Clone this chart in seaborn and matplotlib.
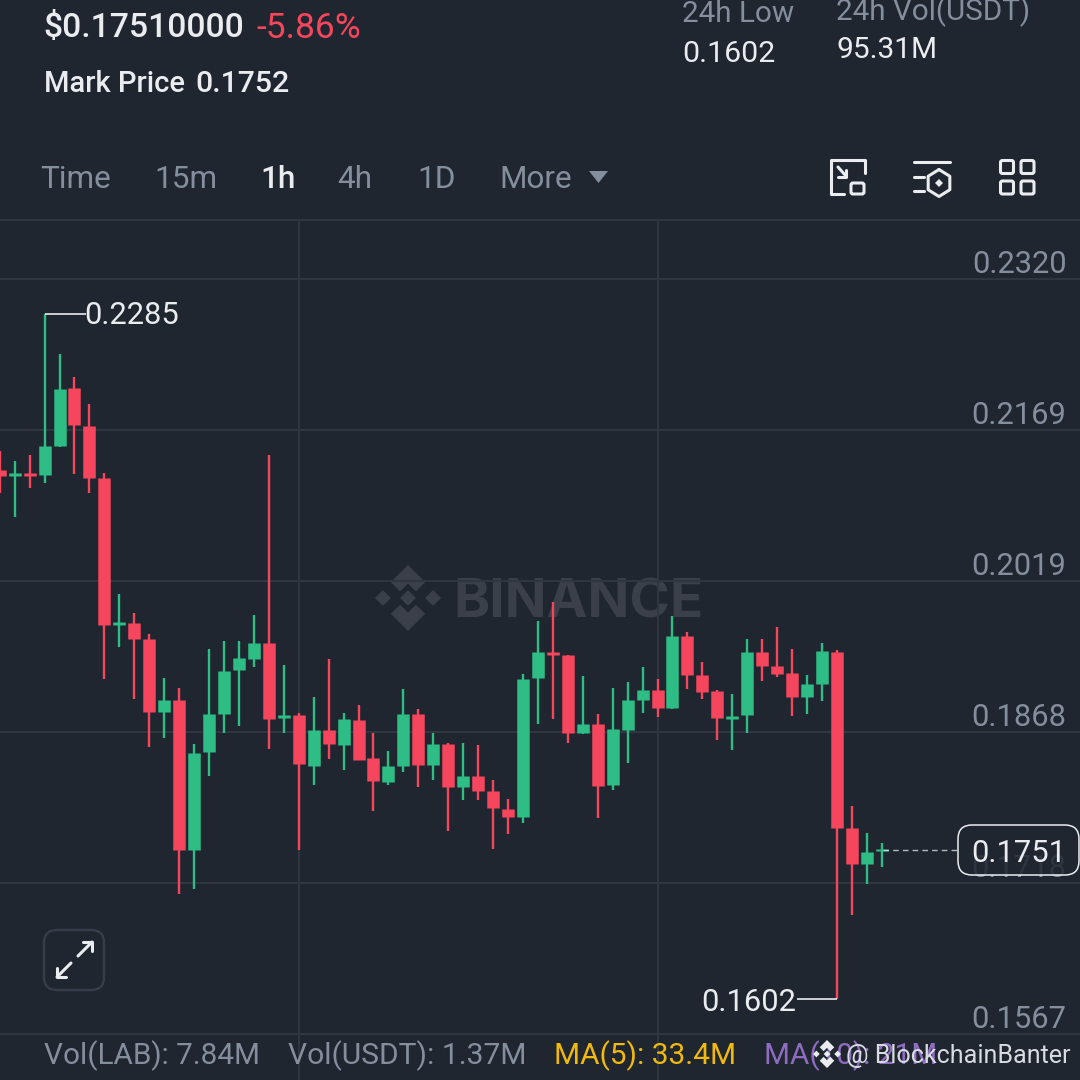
import numpy as np
import pandas as pd
import matplotlib
matplotlib.use("Agg")
import matplotlib.pyplot as plt
from matplotlib.patches import FancyBboxPatch, Polygon, Rectangle
import seaborn as sns

candle_index = list(range(-1, 59))
highs = [.21488,.21385,.21445,.2285,.22449,.22220,.21950,.21265,.20055,.19872,.19659,.19217,.19118,.18559,.19507,.19589,.19589,.19852,.21445,.19350,
         .18868,.19028,.19410,.18868,.18951,.18669,.18489,.19111,.18908,.18669,.18569,.18569,.18549,.18206,.18017,.19260,.19792,.19981,.19450,.19237,
         .18858,.19118,.19178,.19327,.19207,.19842,.19676,.19380,.19101,.19058,.19609,.19609,.19729,.19510,.19247,.19570,.19500,.17947,.17678,.17578]
lows = [.21069,.20826,.21115,.21168,.21527,.21258,.21069,.19210,.19533,.19014,.18529,.18622,.17066,.17116,.18240,.18669,.18742,.19333,.18509,.18669,
        .17508,.18156,.18410,.18300,.18403,.17897,.18150,.18280,.18136,.18206,.17697,.18007,.18007,.17518,.17664,.17777,.18759,.18808,.18569,.18659,
        .17827,.18100,.18376,.18871,.18831,.18914,.19111,.19011,.18599,.18499,.18669,.19191,.19230,.18841,.18861,.18991,.1602,.16854,.17169,.17338]
opens = [.21295,.21238,.21265,.21248,.21537,.22110,.21731,.21215,.19752,.19772,.19609,.18881,.18998,.17508,.18479,.18861,.19300,.19410,.19570,.18821,
         .18848,.18340,.18699,.18549,.18799,.18419,.18180,.18340,.18858,.18350,.18559,.18130,.18240,.18090,.17917,.17837,.19220,.19480,.19450,.18669,
         .18759,.18150,.18702,.19001,.19101,.18918,.19639,.19250,.19091,.18811,.18851,.19480,.19340,.19267,.19031,.19164,.19480,.17724,.17365,.17495]
closes = [.21238,.21265,.21240,.21537,.22100,.21741,.21215,.19746,.19782,.19612,.18881,.18998,.17508,.18475,.18858,.19290,.19420,.19570,.18811,.18854,
          .18363,.18699,.18559,.18808,.18406,.18190,.18346,.18858,.18350,.18559,.18130,.18240,.18090,.17927,.17837,.19210,.19480,.19453,.18669,.18759,
          .18140,.18709,.18998,.19101,.18921,.19639,.19250,.19081,.18821,.18841,.19480,.19340,.19260,.19031,.19161,.19490,.17727,.17365,.17485,.17515]

grid_prices = [0.2320, 0.2169, 0.2019, 0.1868, 0.1718, 0.1567]
grid_labels = ["0.2320", "0.2169", "0.2019", "0.1868", "0.1718", "0.1567"]
grid_candles = [19, 43]
last_price = 0.1751
high_price = 0.2285
low_price = 0.1602

BG = "#1F2630"
GRID = "#30363F"
UP = "#2EBD85"
DOWN = "#F6465D"
WHITE = "#EAECEF"
GRAY = "#848E9C"

sns.set_theme(style="dark", rc={"figure.facecolor": BG, "axes.facecolor": BG})
plt.rcParams["font.family"] = ["Roboto", "DejaVu Sans"]

wick_rows, body_rows = [], []
for i, h, l, o, c in zip(candle_index, highs, lows, opens, closes):
    d = "up" if c >= o else "down"
    wick_rows += [(i, h, d), (i, l, d)]
    body_rows += [(i, o, d), (i, c, d)]
wicks = pd.DataFrame(wick_rows, columns=["candle", "price", "dir"])
bodies = pd.DataFrame(body_rows, columns=["candle", "price", "dir"])
pal = {"up": UP, "down": DOWN}

fig = plt.figure(figsize=(10.8, 10.8), dpi=100, facecolor=BG)
back = fig.add_axes([0, 0, 1, 1], zorder=0)
ax = fig.add_axes([0, 0, 1, 1], zorder=1)
top = fig.add_axes([0, 0, 1, 1], zorder=2)
for a in (back, top):
    a.set_xlim(0, 1080)
    a.set_ylim(1080, 0)
    a.axis("off")
ax.patch.set_alpha(0)
top.patch.set_alpha(0)


def logo(a, cx, cy, s, color, z=1):
    d = 0.24
    for dx in (-0.76, 0, 0.76):
        a.add_patch(Polygon([(cx + (dx - d) * s, cy), (cx + dx * s, cy - d * s), (cx + (dx + d) * s, cy), (cx + dx * s, cy + d * s)],
                            fc=color, ec="none", zorder=z))
    for sgn in (-1, 1):
        pts = [(0, 1), (.52, .48), (.24, .20), (0, .44), (-.24, .20), (-.52, .48)]
        a.add_patch(Polygon([(cx + x * s, cy + sgn * y * s) for x, y in pts], fc=color, ec="none", zorder=z))


logo(back, 408, 598, 33, "#3A3F49")
back.text(578.5, 603, "BINANCE", color="#3A3F49", family="Inter", fontsize=39.5, fontweight="bold", ha="center", va="center")

sns.lineplot(data=wicks, x="candle", y="price", units="candle", estimator=None, hue="dir", palette=pal,
             linewidth=1.7, solid_capstyle="butt", sort=False, legend=False, ax=ax)
sns.lineplot(data=bodies, x="candle", y="price", units="candle", estimator=None, hue="dir", palette=pal,
             linewidth=9.0, solid_capstyle="butt", sort=False, legend=False, ax=ax)

ax.set_xlim(-0.983, 71.26)
ax.set_ylim(0.15211, 0.25983)
ax.set_yticks(grid_prices)
ax.set_xticks(grid_candles)
ax.grid(True, color=GRID, linewidth=1.5)
ax.set_axisbelow(True)
ax.tick_params(length=0, labelleft=False, labelbottom=False)
ax.set_xlabel("")
ax.set_ylabel("")
for s in ax.spines.values():
    s.set_visible(False)

# price annotations, placed through the price scale
for p, lab in zip(grid_prices, grid_labels):
    ax.annotate(lab, xy=(1066.5, p), xycoords=("figure pixels", "data"), xytext=(0, 14.5 * 0.72), textcoords="offset points",
                color=GRAY, fontsize=22.2, ha="right", va="center", zorder=1)
ax.plot([2, 4.75], [high_price] * 2, color=WHITE, lw=1.2, solid_capstyle="butt", zorder=5)
ax.annotate("0.2285", xy=(4.75, high_price), xytext=(-1, -1.2), textcoords="offset points", color=WHITE, fontsize=22.2, va="center", ha="left")
ax.plot([52.3, 55], [low_price] * 2, color=WHITE, lw=1.2, solid_capstyle="butt", zorder=5)
ax.annotate("0.1602", xy=(52.3, low_price), xytext=(0, -2.5), textcoords="offset points", color=WHITE, fontsize=22.2, va="center", ha="right")
ax.plot([58.1, 63], [last_price] * 2, color=WHITE, lw=1.0, ls=(0, (4, 3)), alpha=0.75, zorder=5)

# header cover and separator
top.add_patch(Rectangle((0, 0), 1080, 219, fc=BG, ec="none", zorder=0))
top.plot([0, 1080], [219.5, 219.5], color=GRID, lw=1.5, zorder=1)

# last price tag
top.add_patch(FancyBboxPatch((965, 832), 107, 36, boxstyle="round,pad=7,rounding_size=14", fc=BG, alpha=0.85, ec="none", zorder=3))
top.add_patch(FancyBboxPatch((965, 832), 107, 36, boxstyle="round,pad=7,rounding_size=14", fc="none", ec=WHITE, lw=1.1, zorder=4))
top.text(1019, 853, "0.1751", color=WHITE, fontsize=22.2, ha="center", va="center", zorder=5)


# header texts
def T(x, y, s, c=WHITE, fs=20, w="normal", ha="left"):
    top.text(x - 1.5, y + 1.5, s, color=c, fontsize=fs, fontweight=w, ha=ha, va="center", zorder=5)


T(45, 27, "$0.17510000", WHITE, 24.3, "medium")
T(258, 27, "-5.86%", DOWN, 25.5)
T(45, 82, "Mark Price", WHITE, 21, "medium")
T(197, 82, "0.1752", WHITE, 21.8, "medium")
T(684, 13, "24h Low", GRAY, 21.3)
T(684, 53, "0.1602", WHITE, 21.8)
T(838, 10, "24h Vol(USDT)", GRAY, 21.3)
T(838, 49, "95.31M", WHITE, 21.5)
for x, s, c, w in [(42, "Time", GRAY, "normal"), (156, "15m", GRAY, "normal"), (262, "1h", WHITE, "medium"),
                   (339, "4h", GRAY, "normal"), (419, "1D", GRAY, "normal"), (501, "More", GRAY, "normal")]:
    T(x, 178.5, s, c, 22.7, w)
top.add_patch(Polygon([(589, 171), (608, 171), (598.5, 183)], fc=GRAY, ec="none", zorder=5))

# icons
ic = dict(color=WHITE, lw=2.2, solid_capstyle="round", solid_joinstyle="round", zorder=5)
top.plot([844, 831, 831, 865, 865], [194, 194, 160, 160, 173], **ic)
top.add_patch(FancyBboxPatch((851, 183), 13, 11, boxstyle="round,pad=0,rounding_size=2", fc="none", ec=WHITE, lw=2.2, zorder=5))
top.plot([838, 846], [167, 176], **ic)
top.plot([846, 846, 838], [170, 177, 177], **ic)
top.plot([914, 950], [162, 162], **ic)
top.plot([914, 924], [177, 177], **ic)
top.plot([914, 924], [191, 191], **ic)
hx = 939 + 12.5 * np.sin(np.arange(7) * np.pi / 3)
hy = 183 - 13.5 * np.cos(np.arange(7) * np.pi / 3)
top.plot(hx, hy, **ic)
top.add_patch(Polygon([(939, 179), (943, 183), (939, 187), (935, 183)], fc=WHITE, ec="none", zorder=5))
for x in (1000.5, 1021):
    for y in (160.5, 181):
        top.add_patch(FancyBboxPatch((x, y), 13, 13, boxstyle="round,pad=0,rounding_size=2", fc="none", ec=WHITE, lw=2.2, zorder=5))

# expand button
top.add_patch(FancyBboxPatch((44, 930), 60, 60, boxstyle="round,pad=0,rounding_size=13", fc="none", ec="#363C48", lw=1.8, zorder=5))
top.plot([78, 92], [956, 942], **ic)
top.plot([83, 92, 92], [942, 942, 951], **ic)
top.plot([71, 57], [963, 977], **ic)
top.plot([57, 57, 66], [968, 977, 977], **ic)

# footer
T(45, 1054, "Vol(LAB): 7.84M", GRAY, 21.4)
T(289, 1054, "Vol(USDT): 1.37M", GRAY, 21.6)
T(556, 1054, "MA(5): 33.4M", "#F0B90B", 21.5)
T(765, 1054, "MA(10): 21M", "#8E6CC0", 21.4)
logo(top, 827, 1054, 14, WHITE, z=6)
T(848, 1054, "@ BlockchainBanter", "#D8DBE0", 18.1)

fig.savefig("out.png", dpi=100, facecolor=BG)
